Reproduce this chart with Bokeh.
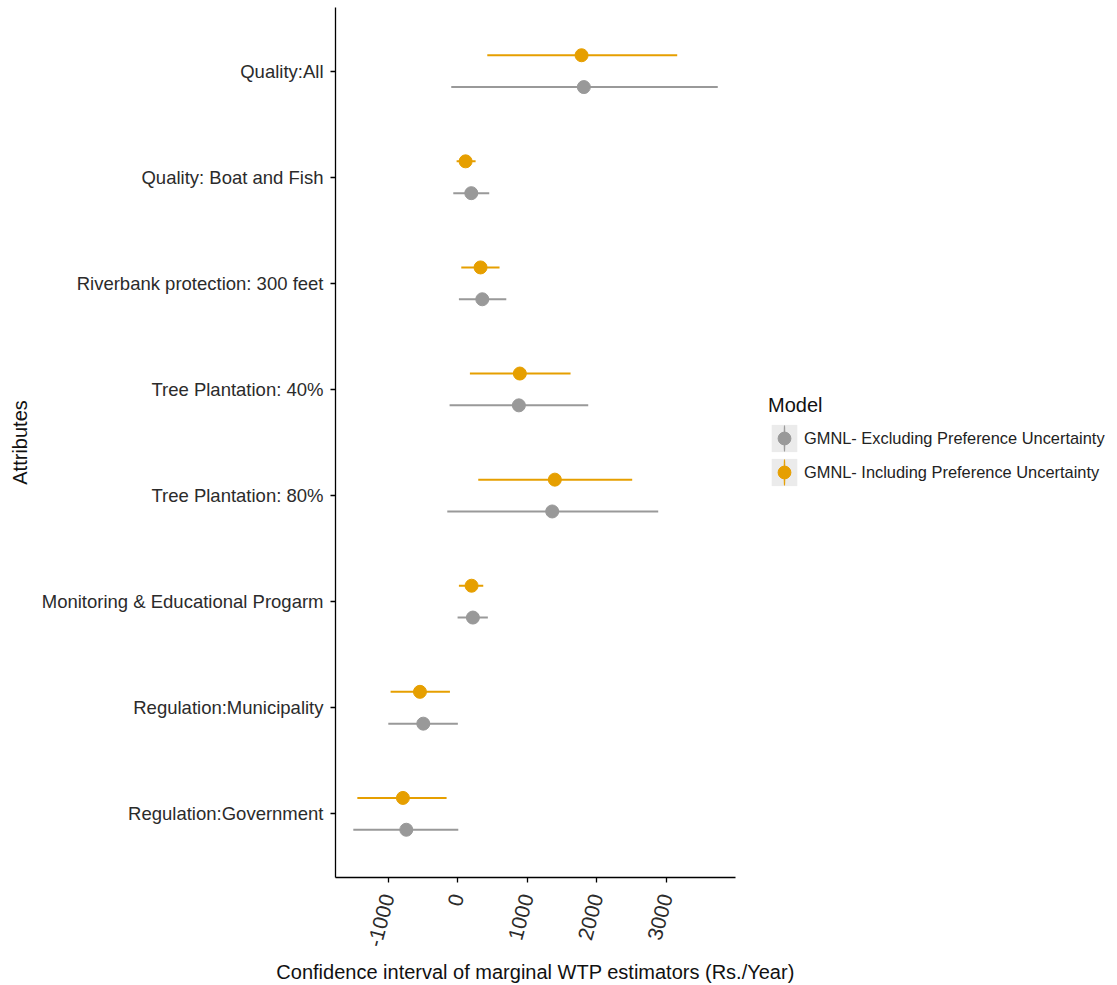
import math

from bokeh.embed import file_html
from bokeh.models import (ColumnDataSource, Ellipse, FixedTicker, Legend,
                          LegendItem, Quad, Range1d)
from bokeh.plotting import figure
from bokeh.resources import INLINE

# Attributes, listed from top to bottom of the chart
attributes = [
    "Quality:All",
    "Quality: Boat and Fish",
    "Riverbank protection: 300 feet",
    "Tree Plantation: 40%",
    "Tree Plantation: 80%",
    "Monitoring & Educational Progarm",
    "Regulation:Municipality",
    "Regulation:Government",
]

# GMNL - excluding preference uncertainty (estimate, lower, upper)
excl_est = [1815, 197, 355, 881, 1360, 220, -493, -737]
excl_lo = [-91, -62, 19, -115, -148, 0, -996, -1499]
excl_hi = [3740, 455, 700, 1878, 2884, 435, 4, 10]

# GMNL - including preference uncertainty (estimate, lower, upper)
incl_est = [1782, 115, 330, 895, 1398, 201, -541, -786]
incl_lo = [427, -14, 53, 177, 297, 19, -963, -1441]
incl_hi = [3157, 259, 603, 1624, 2510, 369, -110, -158]

x_ticks = [-1000, 0, 1000, 2000, 3000]
x_tick_labels = ["-1000", "0", "1000", "2000", "3000"]

model_names = ["GMNL- Excluding Preference Uncertainty",
               "GMNL- Including Preference Uncertainty"]
model_colors = ["#999999", "#E69F00"]

FONT = "Liberation Sans"
DODGE = 0.15

n = len(attributes)
positions = [n - i for i in range(n)]  # top attribute gets the highest slot

p = figure(
    frame_width=400, frame_height=870,
    x_range=Range1d(-1755, 3995), y_range=Range1d(0.4, 8.6),
    min_border_left=335, min_border_right=382,
    min_border_top=7, min_border_bottom=108,
    output_backend="svg", toolbar_location=None,
)
p.outline_line_color = None
p.xgrid.visible = False
p.ygrid.visible = False
p.background_fill_color = "white"
p.border_fill_color = "white"

series = [
    (excl_est, excl_lo, excl_hi, -DODGE, model_colors[0]),
    (incl_est, incl_lo, incl_hi, +DODGE, model_colors[1]),
]
legend_items = []
for (est, lo, hi, off, col), name in zip(series, model_names):
    data = dict(est=est, lo=lo, hi=hi, y=[pos + off for pos in positions])
    src = ColumnDataSource(data)
    p.segment(x0="lo", x1="hi", y0="y", y1="y", source=src,
              line_color=col, line_width=2)
    pts = p.scatter(x="est", y="y", source=src, size=13,
                    fill_color=col, line_color=col)

    # key-only pieces: a selected copy of the source whose selected and
    # unselected looks are fully transparent, so only the legend shows them
    key_src = ColumnDataSource(dict(data))
    key_src.selected.indices = [0]
    bg = Quad(left="lo", right="hi", top="y", bottom="y",
              fill_color="#ebebeb", line_color=None)
    clear_q = Quad(left="lo", right="hi", top="y", bottom="y",
                   fill_alpha=0, line_alpha=0)
    key_bg = p.add_glyph(key_src, bg, selection_glyph=clear_q,
                         nonselection_glyph=clear_q)
    # a very thin, tall ellipse reads as the vertical stroke of the key
    stroke = dict(x="est", y="y", width=1, height=40,
                  width_units="screen", height_units="screen")
    vl = Ellipse(fill_color=col, line_color=col, line_width=1, **stroke)
    clear_v = Ellipse(fill_alpha=0, line_alpha=0, **stroke)
    key_line = p.add_glyph(key_src, vl, selection_glyph=clear_v,
                           nonselection_glyph=clear_v)
    legend_items.append(LegendItem(label=name,
                                   renderers=[key_bg, key_line, pts]))

legend = Legend(
    items=legend_items,
    location=(33, 388), glyph_width=32, glyph_height=34, label_height=34,
    label_standoff=4, spacing=0, padding=0, margin=0,
    title="Model", title_text_font=FONT, title_text_font_size="20px",
    title_text_font_style="normal", title_standoff=4,
    title_text_color="#111111",
    label_text_font=FONT, label_text_font_size="16.4px",
    label_text_color="#222222",
    border_line_color=None, background_fill_alpha=0,
)
p.add_layout(legend, "right")

# x axis
xa = p.xaxis[0]
xa.ticker = FixedTicker(ticks=x_ticks)
xa.major_label_overrides = dict(zip(x_ticks, x_tick_labels))
xa.minor_tick_line_color = None
xa.major_tick_in = 0
xa.major_tick_out = 5
xa.axis_line_width = 1.3
xa.major_tick_line_width = 1.3
xa.major_label_orientation = math.radians(75)
xa.major_label_text_font = FONT
xa.major_label_text_font_size = "21px"
xa.major_label_text_color = "#2b2b2b"
xa.major_label_standoff = 12
xa.axis_label = "Confidence interval of marginal WTP estimators (Rs./Year)"
xa.axis_label_text_font = FONT
xa.axis_label_text_font_size = "20px"
xa.axis_label_text_font_style = "normal"
xa.axis_label_text_color = "#111111"
xa.axis_label_standoff = 8

# y axis
ya = p.yaxis[0]
ya.ticker = FixedTicker(ticks=positions)
ya.major_label_overrides = {pos: name for pos, name in zip(positions, attributes)}
ya.minor_tick_line_color = None
ya.major_tick_in = 0
ya.major_tick_out = 5
ya.axis_line_width = 1.3
ya.major_tick_line_width = 1.3
ya.major_label_text_font = FONT
ya.major_label_text_font_size = "18.5px"
ya.major_label_text_color = "#2b2b2b"
ya.major_label_standoff = 7
ya.axis_label = "Attributes"
ya.axis_label_text_font = FONT
ya.axis_label_text_font_size = "20px"
ya.axis_label_text_font_style = "normal"
ya.axis_label_text_color = "#111111"
ya.axis_label_standoff = 8

open("out.html", "w").write(file_html(p, INLINE))
